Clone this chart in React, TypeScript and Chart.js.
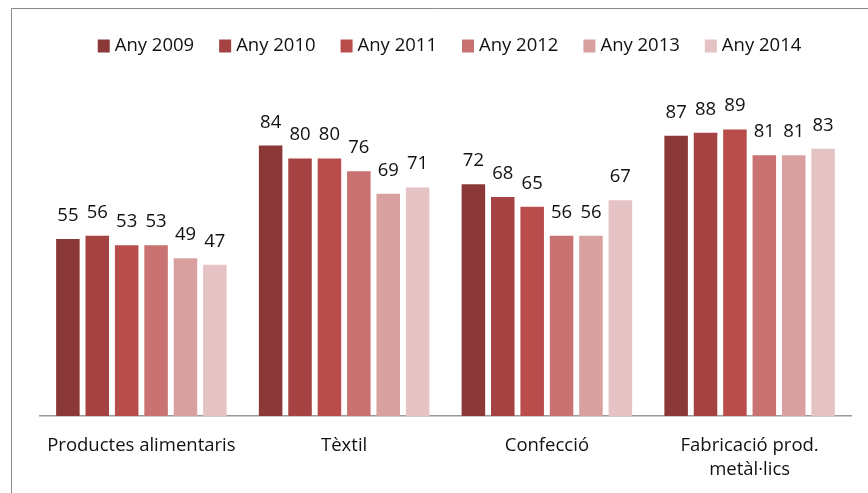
import React, { useEffect, useRef } from "react";
import { Chart, registerables } from "chart.js";

Chart.register(...registerables);

const categories: string[][] = [
  ["Productes alimentaris"],
  ["Tèxtil"],
  ["Confecció"],
  ["Fabricació prod.", "metàl·lics"],
];
const seriesNames = ["Any 2009", "Any 2010", "Any 2011", "Any 2012", "Any 2013", "Any 2014"];
const any2009 = [55, 84, 72, 87];
const any2010 = [56, 80, 68, 88];
const any2011 = [53, 80, 65, 89];
const any2012 = [53, 76, 56, 81];
const any2013 = [49, 69, 56, 81];
const any2014 = [47, 71, 67, 83];
const seriesValues = [any2009, any2010, any2011, any2012, any2013, any2014];
const seriesColors = ["#8B3838", "#A54242", "#B94D4B", "#C87271", "#D9A0A0", "#E5C2C3"];

const FONT = "'Open Sans', Lato, sans-serif";
const FONT_SIZE = 18.5;

const framePlugin = {
  id: "frame",
  beforeDraw(chart: any) {
    const ctx = chart.ctx;
    ctx.save();
    ctx.fillStyle = "#ffffff";
    ctx.fillRect(0, 0, chart.width, chart.height);
    ctx.strokeStyle = "#8a8a8a";
    ctx.lineWidth = 1;
    ctx.beginPath();
    ctx.moveTo(11.5, chart.height);
    ctx.lineTo(11.5, 8.5);
    ctx.lineTo(chart.width, 8.5);
    ctx.stroke();
    ctx.restore();
  },
};

const valueLabelPlugin = {
  id: "valueLabels",
  afterDatasetsDraw(chart: any) {
    const ctx = chart.ctx;
    ctx.save();
    ctx.font = `${FONT_SIZE}px ${FONT}`;
    ctx.fillStyle = "#111111";
    ctx.textAlign = "center";
    ctx.textBaseline = "alphabetic";
    chart.data.datasets.forEach((ds: any, i: number) => {
      const meta = chart.getDatasetMeta(i);
      meta.data.forEach((bar: any, j: number) => {
        ctx.fillText(String(ds.data[j]), bar.x, bar.y - 18);
      });
    });
    ctx.restore();
  },
};

const legendPlugin = {
  id: "customLegend",
  afterDraw(chart: any) {
    const ctx = chart.ctx;
    ctx.save();
    ctx.font = `${FONT_SIZE}px ${FONT}`;
    const box = 12;
    const textGap = 5;
    const itemGap = 25;
    const widths = chart.data.datasets.map((ds: any) => box + textGap + ctx.measureText(ds.label).width);
    const total = widths.reduce((a: number, b: number) => a + b, 0) + itemGap * (widths.length - 1);
    const center = (chart.chartArea.left + chart.chartArea.right) / 2 + 4;
    let x = center - total / 2;
    const yMid = 45.5;
    chart.data.datasets.forEach((ds: any, i: number) => {
      ctx.fillStyle = ds.backgroundColor;
      ctx.fillRect(x, yMid - 6, box, box + 1);
      ctx.fillStyle = "#111111";
      ctx.textAlign = "left";
      ctx.textBaseline = "middle";
      ctx.fillText(ds.label, x + box + textGap, yMid);
      x += widths[i] + itemGap;
    });
    ctx.restore();
  },
};

export default function App() {
  const canvasRef = useRef<HTMLCanvasElement | null>(null);

  useEffect(() => {
    document.body.style.margin = "0";
    document.body.style.overflow = "hidden";
    const canvas = canvasRef.current;
    if (!canvas) return;
    const chart = new Chart(canvas, {
      type: "bar",
      data: {
        labels: categories,
        datasets: seriesNames.map((name, i) => ({
          label: name,
          data: seriesValues[i],
          backgroundColor: seriesColors[i],
          borderWidth: 0,
          barPercentage: 0.8,
          categoryPercentage: 0.87,
        })),
      },
      options: {
        responsive: false,
        animation: false,
        devicePixelRatio: 1,
        layout: { padding: { left: 40, right: 17, top: 94, bottom: 17 } },
        plugins: {
          legend: { display: false },
          tooltip: { enabled: false },
          title: { display: false },
        },
        scales: {
          x: {
            grid: { display: false, drawTicks: false },
            border: { display: true, color: "#9a9a9a", width: 1.5 },
            ticks: {
              color: "#111111",
              font: { family: FONT, size: FONT_SIZE, lineHeight: 1.3 },
              padding: 18,
              maxRotation: 0,
              autoSkip: false,
            },
            afterFit: (scale: any) => {
              scale.height = 60;
            },
          },
          y: {
            display: false,
            min: 0,
            max: 100,
          },
        },
      },
      plugins: [framePlugin, valueLabelPlugin, legendPlugin],
    });
    return () => chart.destroy();
  }, []);

  return (
    <div style={{ width: 868, height: 493, position: "relative", overflow: "hidden" }}>
      <canvas ref={canvasRef} width={868} height={493} style={{ display: "block" }} />
    </div>
  );
}
